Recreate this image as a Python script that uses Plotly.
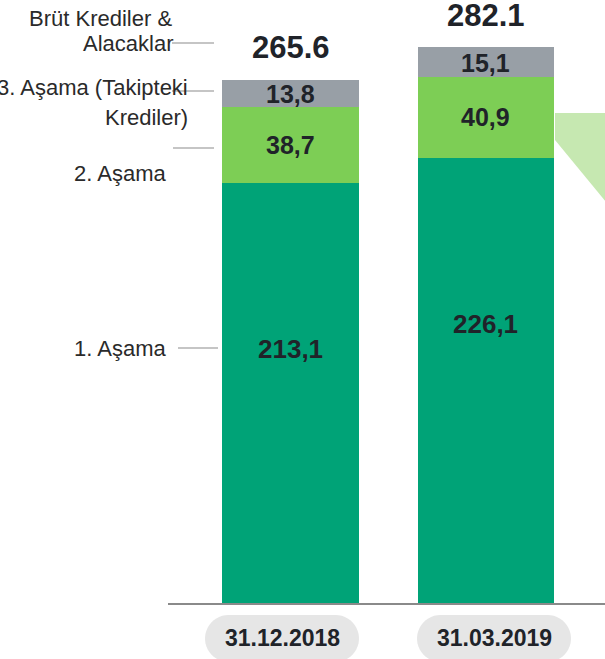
import plotly.graph_objects as go
import numpy as np

# ---- data ----
categories = ["31.12.2018", "31.03.2019"]
stage1 = [213.1, 226.1]   # 1. Aşama
stage2 = [38.7, 40.9]     # 2. Aşama
stage3 = [13.8, 15.1]     # 3. Aşama (Takipteki Krediler)
totals = [265.6, 282.1]   # Brüt Krediler & Alacaklar
stage1_lbl = ["213,1", "226,1"]
stage2_lbl = ["38,7", "40,9"]
stage3_lbl = ["13,8", "15,1"]
total_lbl = ["265.6", "282.1"]

# ---- style ----
W, H = 605, 659
PL, PR, PT, PB = 168, 0, 0, 56
PW, PH = W - PL - PR, H - PT - PB
FONT = "Liberation Sans, Arial, sans-serif"
TXT = "#202329"
C1, C2, C3 = "#00a377", "#7dce55", "#989fa6"

def px_x(p):
    return (p - PL) / PW

def px_y(p):
    return (PT + PH - p) / PH

xs = list(range(len(categories)))

fig = go.Figure()
fig.add_bar(x=xs, y=stage1, marker_color=C1, width=0.70, marker_line_width=0, hoverinfo="skip")
fig.add_bar(x=xs, y=stage2, marker_color=C2, width=0.70, marker_line_width=0, hoverinfo="skip")
fig.add_bar(x=xs, y=stage3, marker_color=C3, width=0.70, marker_line_width=0, hoverinfo="skip")

ann = []
for i in xs:
    ann.append(dict(x=i, y=stage1[i] - 84.3, xref="x", yref="y", text=stage1_lbl[i], showarrow=False,
                    font=dict(family=FONT, size=26, color=TXT, weight="bold")))
    ann.append(dict(x=i, y=stage1[i] + stage2[i] / 2, xref="x", yref="y", text=stage2_lbl[i], showarrow=False,
                    font=dict(family=FONT, size=25, color=TXT, weight="bold")))
    ann.append(dict(x=i, y=stage1[i] + stage2[i] + stage3[i] / 2, xref="x", yref="y", text=stage3_lbl[i],
                    showarrow=False, yshift=-1, font=dict(family=FONT, size=25, color=TXT, weight="bold")))
    ann.append(dict(x=i, y=totals[i], xref="x", yref="y", text=total_lbl[i], showarrow=False, yshift=32,
                    font=dict(family=FONT, size=31, color=TXT, weight="bold")))

# left side legend labels
left = [
    ("Brüt Krediler &", 174, 19),
    ("Alacaklar", 175, 43),
    ("3. Aşama (Takipteki", 190, 87),
    ("Krediler)", 190, 117),
    ("2. Aşama", 168, 173),
    ("1. Aşama", 168, 348),
]
for t, xr, yc in left:
    ann.append(dict(x=px_x(xr), y=px_y(yc), xref="paper", yref="paper", xanchor="right", yanchor="middle",
                    text=t, showarrow=False, font=dict(family=FONT, size=22, color="#2a2a2a")))

shapes = []
for (x0, x1, y) in [(172, 214, 43), (172, 214, 91), (173, 214, 148), (178, 218, 348)]:
    shapes.append(dict(type="line", xref="paper", yref="paper", x0=px_x(x0), x1=px_x(x1),
                       y0=px_y(y), y1=px_y(y), line=dict(color="#8c8c8c", width=1.2)))

# decorative light-green connector on the right
shapes.append(dict(type="path", xref="paper", yref="paper", layer="below",
                   path=f"M {px_x(555)},{px_y(113)} L {px_x(606)},{px_y(113)} L {px_x(606)},{px_y(202)} L {px_x(555)},{px_y(140)} Z",
                   fillcolor="#c6e8b1", line=dict(width=0)))

# date pills
pill_cx = [282, 494]
pw, ph_top, ph_bot = 154, 615, 662
r = (ph_bot - ph_top) / 2
for i in xs:
    cx = pill_cx[i]
    lx, rx = cx - pw / 2 + r, cx + pw / 2 - r
    cy = (ph_top + ph_bot) / 2
    pts = []
    for a in np.linspace(-np.pi / 2, np.pi / 2, 24):
        pts.append((rx + r * np.cos(a), cy + r * np.sin(a)))
    for a in np.linspace(np.pi / 2, 3 * np.pi / 2, 24):
        pts.append((lx + r * np.cos(a), cy + r * np.sin(a)))
    path = "M " + " L ".join(f"{px_x(px):.5f},{px_y(py):.5f}" for px, py in pts) + " Z"
    shapes.append(dict(type="path", xref="paper", yref="paper", path=path,
                       fillcolor="#e6e6e6", line=dict(width=0)))
    ann.append(dict(x=px_x(cx), y=px_y(638), xref="paper", yref="paper", text=categories[i], showarrow=False,
                    xanchor="center", yanchor="middle",
                    font=dict(family=FONT, size=23, color=TXT, weight="bold")))

fig.update_layout(
    barmode="stack",
    width=W, height=H,
    margin=dict(l=PL, r=PR, t=PT, b=PB),
    paper_bgcolor="white", plot_bgcolor="white",
    showlegend=False,
    annotations=ann, shapes=shapes,
    xaxis=dict(range=[-0.627, 1.609], showline=True, linecolor="#8a8a8a", linewidth=2,
               showticklabels=False, showgrid=False, zeroline=False, ticks=""),
    yaxis=dict(range=[0, PH / 1.97], visible=False),
)

fig.write_html("out.html", config={"displayModeBar": False},
               post_script="document.body.style.margin='0';document.body.style.overflow='hidden';")
